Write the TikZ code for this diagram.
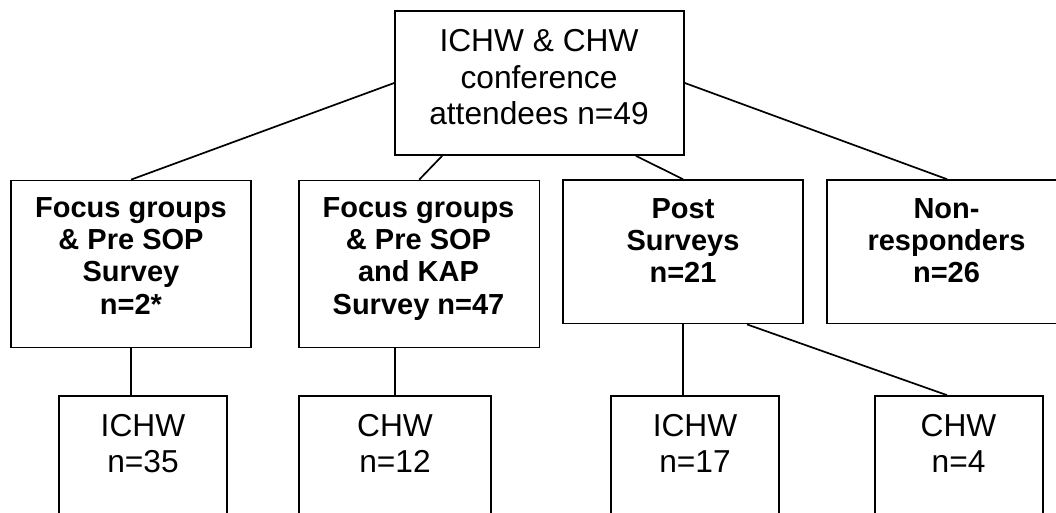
\documentclass[tikz,border=0pt]{standalone}
\usepackage{fontspec}
\setmainfont{Liberation Sans}
\begin{document}
\begin{tikzpicture}[x=1pt,y=-1pt,
  box/.style={draw=black,line width=1.7pt,inner sep=0pt,anchor=center},
  reg/.style={font=\fontsize{31.7}{36.5}\selectfont,align=center,inner sep=0pt,anchor=north},
  bld/.style={font=\fontsize{29}{32.3}\selectfont\bfseries,align=center,inner sep=0pt,anchor=north},
  conn/.style={line width=1.7pt}]
\useasboundingbox (0,0) rectangle (1056,512);
\clip (0,0) rectangle (1056,512);
% boxes
\node[box,minimum width=289pt,minimum height=144pt] (top) at (539.5,83) {};
\node[box,minimum width=240pt,minimum height=167pt] (b1) at (131,264) {};
\node[box,minimum width=240.5pt,minimum height=167pt] (b2) at (419.2,264) {};
\node[box,minimum width=240pt,minimum height=143.5pt] (b3) at (683,251.8) {};
\node[box,minimum width=240pt,minimum height=143.5pt] (b4) at (947,251.8) {};
\node[box,minimum width=168pt,minimum height=150pt] (c1) at (143,471) {};
\node[box,minimum width=192pt,minimum height=150pt] (c2) at (395,471) {};
\node[box,minimum width=168pt,minimum height=150pt] (c3) at (695,471) {};
\node[box,minimum width=168pt,minimum height=150pt] (c4) at (959,471) {};
% texts
\node[reg] (ttop) at (539,26.5) {\rule{0pt}{25pt}ICHW \& CHW\\conference\\attendees n=49};
\node[bld] (tb1) at (131,192) {\rule{0pt}{25pt}Focus groups\\\& Pre SOP\\Survey\\n=2*};
\node[bld] (tb2) at (418.5,192) {\rule{0pt}{25pt}Focus groups\\\& Pre SOP\\and KAP\\Survey n=47};
\node[bld] (tb3) at (683,193) {\rule{0pt}{25pt}Post\\Surveys\\n=21};
\node[bld] (tb4) at (946.5,193) {\rule{0pt}{25pt}Non-\\responders\\n=26};
\node[reg] (tc1) at (143,411) {\rule{0pt}{25pt}ICHW\\n=35};
\node[reg] (tc2) at (395,411) {\rule{0pt}{25pt}CHW\\n=12};
\node[reg] (tc3) at (695,411) {\rule{0pt}{25pt}ICHW\\n=17};
\node[reg] (tc4) at (958.5,411) {\rule{0pt}{25pt}CHW\\n=4};
% connectors
\draw[conn] (top.west) -- (b1.north);
\draw[conn] ([xshift=48pt]top.south west) -- (b2.north);
\draw[conn] ([xshift=-49pt]top.south east) -- (b3.north);
\draw[conn] (top.east) -- (b4.north);
\draw[conn] (b1.south) -- (b1.south |- c1.north);
\draw[conn] (c2.north |- b2.south) -- (c2.north);
\draw[conn] (b3.south) -- (b3.south |- c3.north);
\draw[conn] ([xshift=64pt]b3.south) -- ([xshift=-12pt]c4.north);
\end{tikzpicture}
\end{document}
